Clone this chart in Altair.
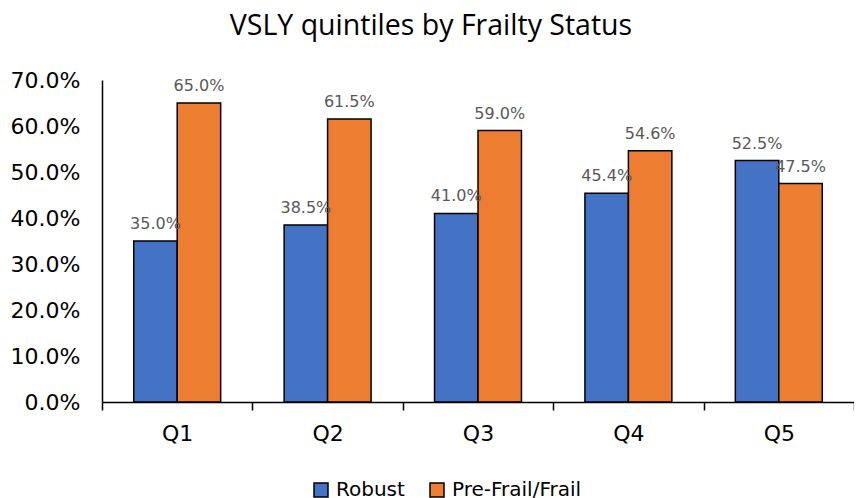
import altair as alt
import pandas as pd

quintiles = ["Q1", "Q2", "Q3", "Q4", "Q5"]
series = ["Robust", "Pre-Frail/Frail"]
robust = [35.0, 38.5, 41.0, 45.4, 52.5]
frail = [65.0, 61.5, 59.0, 54.6, 47.5]
y_ticks = [0.0, 0.1, 0.2, 0.3, 0.4, 0.5, 0.6, 0.7]

rows = []
for i, q in enumerate(quintiles):
    rows.append({"q": q, "s": series[0], "v": robust[i] / 100})
    rows.append({"q": q, "s": series[1], "v": frail[i] / 100})
df = pd.DataFrame(rows)

FONT = "DejaVu Sans"
TFONT = "Open Sans"

base = alt.Chart(df).encode(
    x=alt.X(
        "q:N",
        sort=quintiles,
        scale=alt.Scale(paddingInner=0, paddingOuter=0),
        axis=alt.Axis(
            title=None, labelAngle=0, labelFontSize=22, labelColor="black",
            labelFont=FONT, tickBand="extent", tickSize=8, tickColor="black",
            tickWidth=1.5, domainColor="black", domainWidth=1.5, labelPadding=13,
        ),
    ),
    xOffset=alt.XOffset(
        "s:N", sort=series, scale=alt.Scale(paddingInner=0, paddingOuter=0.73)
    ),
)

bars = base.mark_bar(stroke="black", strokeWidth=1.5).encode(
    y=alt.Y(
        "v:Q",
        scale=alt.Scale(domain=[0, 0.7], nice=False),
        axis=alt.Axis(
            format=".1%", values=y_ticks, title=None, grid=False, ticks=False,
            labelFontSize=22, labelPadding=22, domainColor="black", domainWidth=1.5,
            labelColor="black", labelFont=FONT,
        ),
    ),
    color=alt.Color(
        "s:N",
        sort=series,
        scale=alt.Scale(domain=series, range=["#4472C4", "#ED7D31"]),
        legend=alt.Legend(
            title=None, orient="none", legendX=209, legendY=400, direction="horizontal",
            symbolType="square", symbolSize=196, symbolStrokeColor="black",
            symbolStrokeWidth=1.5, labelFontSize=20, labelFont=FONT, labelColor="black",
            columnPadding=22, labelOffset=5,
        ),
    ),
)

labels = base.mark_text(dy=-9, fontSize=16, color="#595959", baseline="bottom", font=FONT).encode(
    y="v:Q",
    text=alt.Text("v:Q", format=".1%"),
)

chart = (bars + labels).properties(
    width=752,
    height=322,
    title=alt.TitleParams(
        "VSLY quintiles by Frailty Status", fontSize=28.5, font=TFONT, fontWeight="normal",
        color="black", anchor="middle", frame="group", dx=-47, offset=29,
    ),
    autosize=alt.AutoSizeParams(type="none"),
    padding={"left": 94, "top": 72, "right": 0, "bottom": 96},
).configure_view(stroke=None)

chart.save("out.html", embed_options={"renderer": "svg", "actions": False})
